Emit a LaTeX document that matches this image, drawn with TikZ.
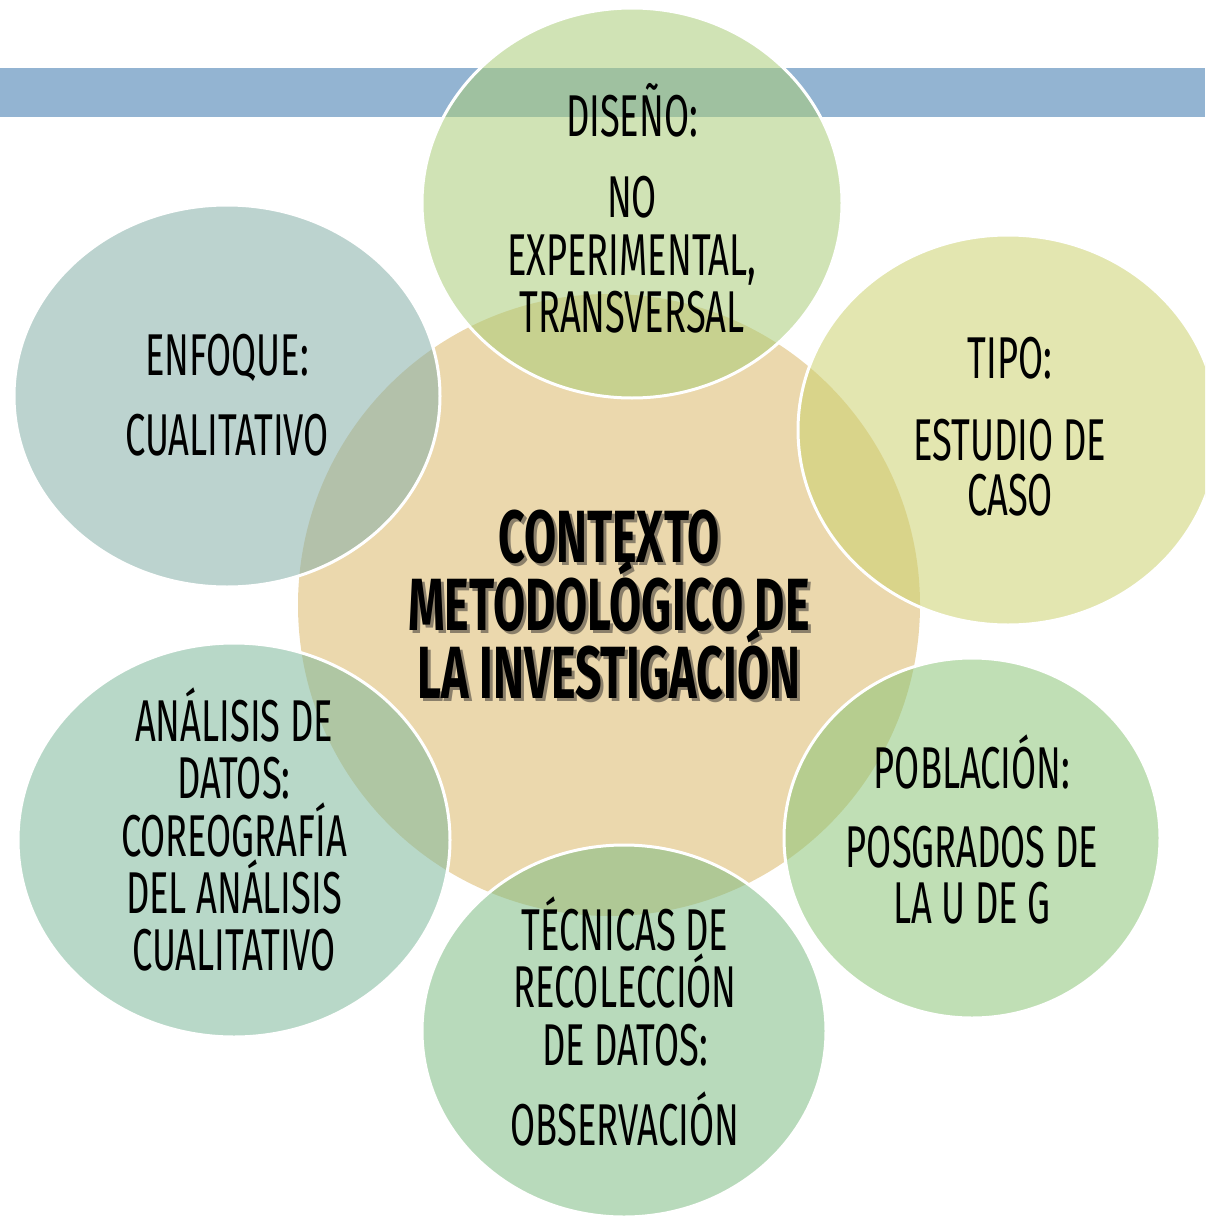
\documentclass[tikz,border=0pt]{standalone}
\usepackage{fontspec}
\setmainfont[FakeStretch=0.615]{Fira Sans}
\newfontfamily\ttlfont[FakeStretch=0.63]{Fira Sans}
\usetikzlibrary{shapes.geometric}
\lineskiplimit=-100pt
\definecolor{bandc}{HTML}{93B4D2}
\definecolor{ctrc}{HTML}{EBD8AD}
\definecolor{disc}{HTML}{AACC78}
\definecolor{tipc}{HTML}{CCD16F}
\definecolor{pobc}{HTML}{8CC578}
\definecolor{tecc}{HTML}{7EBC83}
\definecolor{anac}{HTML}{7EB89B}
\definecolor{enfc}{HTML}{85AFA8}
\definecolor{shdc}{HTML}{8A7F6A}
\newcommand{\shtxt}[1]{\makebox[0pt][l]{\hspace{3pt}\raisebox{-3pt}[0pt][0pt]{\textcolor{shdc}{#1}}}#1}
\begin{document}
\begin{tikzpicture}[x=1pt,y=-1pt,
  bubble/.style={ellipse, fill opacity=0.55, draw=white, draw opacity=1, line width=3pt, inner sep=0pt},
  txt/.style={font=\fontsize{59}{60}\selectfont, anchor=base, inner sep=0pt, text=black},
  ttl/.style={font=\ttlfont\bfseries\fontsize{74}{68}\selectfont, inner sep=0pt, text=black, align=center}]
\useasboundingbox (0,0) rectangle (1205,1217);
\begin{scope}
\clip (0,0) rectangle (1205,1217);
\node[fill=bandc, minimum width=1205pt, minimum height=49pt, inner sep=0pt, anchor=north west] (bar) at (0,68) {};
\node[circle, fill=ctrc, minimum size=622pt, inner sep=0pt] (ctr) at (609,605) {};
\node[bubble, fill=disc, minimum width=420pt, minimum height=390pt] (dis) at (632,203) {};
\node[bubble, fill=tipc, minimum width=420pt, minimum height=390pt] (tip) at (1008,430) {};
\node[bubble, fill=pobc, minimum width=376pt, minimum height=360pt] (pob) at (972,838) {};
\node[bubble, fill=tecc, minimum width=404pt, minimum height=372pt] (tec) at (624,1031) {};
\node[bubble, fill=anac, minimum width=432pt, minimum height=394pt] (ana) at (234,840) {};
\node[bubble, fill=enfc, minimum width=426pt, minimum height=382pt] (enf) at (227,396) {};
\end{scope}
% title with shadow
\node[ttl, anchor=north] (title) at (609,510) {\shtxt{CONTEXTO}\\\shtxt{METODOLÓGICO DE}\\\shtxt{LA INVESTIGACIÓN}};
% DISEÑO
\node[txt] (d1) at (632,137) {DISEÑO:};
\node[txt] (d2) at (632,217) {NO};
\node[txt] (d3) at (632,275) {EXPERIMENTAL,};
\node[txt] (d4) at (632,332) {TRANSVERSAL};
% TIPO
\node[txt] (p1) at (1010,378) {TIPO:};
\node[txt] (p2) at (1010,460) {ESTUDIO DE};
\node[txt] (p3) at (1010,515) {CASO};
% POBLACION
\node[txt] (b1) at (972,788) {POBLACIÓN:};
\node[txt] (b2) at (972,867) {POSGRADOS DE};
\node[txt] (b3) at (972,923) {LA U DE G};
% TECNICAS
\node[txt] (c1) at (625,950) {TÉCNICAS DE};
\node[txt] (c2) at (625,1007) {RECOLECCIÓN};
\node[txt] (c3) at (625,1065) {DE DATOS:};
\node[txt] (c4) at (625,1145) {OBSERVACIÓN};
% ANALISIS
\node[txt] (a1) at (234,741) {ANÁLISIS DE};
\node[txt] (a2) at (234,798) {DATOS:};
\node[txt] (a3) at (234,856) {COREOGRAFÍA};
\node[txt] (a4) at (234,913) {DEL ANÁLISIS};
\node[txt] (a5) at (234,970) {CUALITATIVO};
% ENFOQUE
\node[txt] (e1) at (227,375) {ENFOQUE:};
\node[txt] (e2) at (227,455) {CUALITATIVO};
\end{tikzpicture}
\end{document}
